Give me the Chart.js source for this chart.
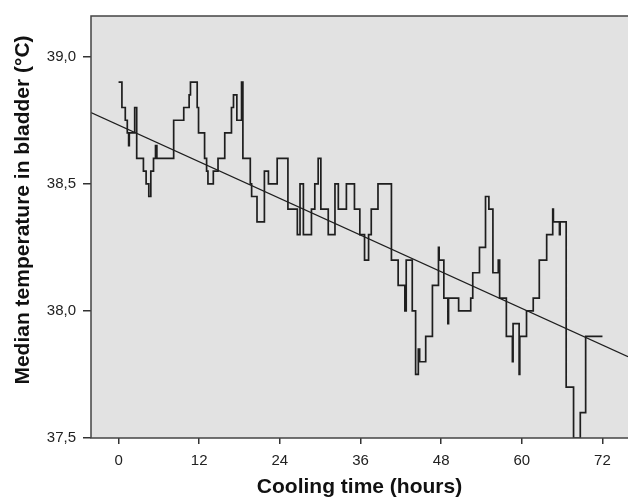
<!DOCTYPE html>
<html>
<head>
<meta charset="utf-8">
<script src="https://cdn.jsdelivr.net/npm/chart.js@4/dist/chart.umd.min.js"></script>
<style>
  html, body { margin: 0; padding: 0; background: #ffffff; }
  #wrap { width: 628px; height: 500px; }
</style>
</head>
<body>
<div id="wrap"><canvas id="c" width="628" height="500"></canvas></div>
<script>
// Cooling time (hours) at which each step begins
const stepTimes = [0, 0.5, 1.0, 1.3, 1.5, 1.6, 2.4, 2.7, 3.7, 4.1, 4.5, 4.8, 5.2, 5.5, 5.7, 8.2, 9.7, 10.5, 10.7, 11.7,
  11.9, 12.8, 13.1, 13.3, 14.1, 14.8, 15.8, 16.8, 17.1, 17.6, 18.3, 18.5, 19.6, 19.8, 20.6, 21.7, 22.3, 23.6, 25.2, 26.6,
  27.0, 27.5, 28.7, 29.2, 29.7, 30.1, 31.2, 32.2, 32.7, 33.9, 35.1, 35.9, 36.6, 37.2, 37.6, 38.6, 40.6, 41.6, 42.6, 42.8,
  43.7, 44.2, 44.6, 44.8, 45.7, 46.7, 47.6, 47.7, 48.4, 49.0, 49.1, 50.6, 52.4, 52.7, 53.7, 54.6, 55.1, 55.7, 56.5, 56.7,
  57.7, 58.6, 58.7, 59.6, 59.7, 60.7, 61.7, 62.6, 63.7, 64.6, 64.7, 65.6, 65.7, 66.6, 67.7, 68.7, 69.5, 72.0];
// Median bladder temperature (°C) for each step
const medianTemps = [38.9, 38.8, 38.75, 38.7, 38.65, 38.7, 38.8, 38.6, 38.55, 38.5, 38.45, 38.55, 38.6, 38.65, 38.6, 38.75, 38.8, 38.85, 38.9, 38.8,
  38.7, 38.6, 38.55, 38.5, 38.55, 38.6, 38.7, 38.8, 38.85, 38.75, 38.9, 38.6, 38.5, 38.45, 38.35, 38.55, 38.5, 38.6, 38.4, 38.3,
  38.5, 38.3, 38.4, 38.5, 38.6, 38.4, 38.3, 38.5, 38.4, 38.5, 38.4, 38.3, 38.2, 38.3, 38.4, 38.5, 38.2, 38.1, 38.0, 38.2,
  38.0, 37.75, 37.85, 37.8, 37.9, 38.1, 38.25, 38.2, 38.05, 37.95, 38.05, 38.0, 38.05, 38.15, 38.25, 38.45, 38.4, 38.15, 38.2, 38.05,
  37.9, 37.8, 37.95, 37.75, 37.9, 38.0, 38.05, 38.2, 38.3, 38.4, 38.35, 38.3, 38.35, 37.7, 37.5, 37.6, 37.9, 37.9];
// Regression line end points
const fitTimes = [-4.1, 75.8];
const fitTemps = [38.78, 37.82];
// Tick labels and titles
const xTickValues = [0, 12, 24, 36, 48, 60, 72];
const yTickValues = [37.5, 38.0, 38.5, 39.0];
const yTickLabels = ['37,5', '38,0', '38,5', '39,0'];
const xTitle = 'Cooling time (hours)';
const yTitle = 'Median temperature in bladder (°C)';

const stepData = stepTimes.map((t, i) => ({ x: t, y: medianTemps[i] }));
const fitData = fitTimes.map((t, i) => ({ x: t, y: fitTemps[i] }));

const plotBg = {
  id: 'plotBg',
  beforeDatasetsDraw(chart) {
    const { ctx, chartArea: a } = chart;
    ctx.save();
    ctx.fillStyle = '#e2e2e2';
    ctx.fillRect(a.left, a.top, a.right - a.left, a.bottom - a.top);
    ctx.restore();
  },
  afterDatasetsDraw(chart) {
    const { ctx, chartArea: a } = chart;
    ctx.save();
    ctx.strokeStyle = '#444';
    ctx.lineWidth = 1.5;
    ctx.beginPath();
    ctx.moveTo(a.right + 2, a.top);
    ctx.lineTo(a.left, a.top);
    ctx.lineTo(a.left, a.bottom);
    ctx.lineTo(a.right + 2, a.bottom);
    ctx.stroke();
    // y-axis title
    ctx.translate(23, 210);
    ctx.rotate(-Math.PI / 2);
    ctx.fillStyle = '#111';
    ctx.font = 'bold 21px "Liberation Sans", Arial, sans-serif';
    ctx.textAlign = 'center';
    ctx.textBaseline = 'middle';
    ctx.fillText(yTitle, 0, 0);
    ctx.restore();
  }
};

new Chart(document.getElementById('c'), {
  type: 'line',
  data: {
    datasets: [
      {
        data: stepData,
        stepped: true,
        borderColor: '#1e1e1e',
        borderWidth: 1.7,
        pointRadius: 0,
        fill: false,
        tension: 0
      },
      {
        data: fitData,
        borderColor: '#1e1e1e',
        borderWidth: 1.1,
        pointRadius: 0,
        fill: false,
        tension: 0
      }
    ]
  },
  options: {
    responsive: false,
    animation: false,
    layout: { padding: { top: 12, right: 0, left: 0, bottom: 0 } },
    plugins: { legend: { display: false }, tooltip: { enabled: false } },
    scales: {
      x: {
        type: 'linear',
        min: -4.1,
        max: 75.8,
        afterBuildTicks(axis) { axis.ticks = xTickValues.map(v => ({ value: v })); },
        afterFit(scale) { scale.height = 62; },
        border: { display: false },
        grid: { drawOnChartArea: false, drawTicks: true, tickLength: 6, color: '#333', lineWidth: 1.5 },
        ticks: { color: '#222', font: { family: 'Liberation Sans', size: 15 }, padding: 8, maxRotation: 0, autoSkip: false },
        title: { display: true, text: xTitle, color: '#111',
          font: { family: 'Liberation Sans', size: 21, weight: 'bold' }, padding: { top: 0, bottom: 0 } }
      },
      y: {
        type: 'linear',
        min: 37.5,
        max: 39.16,
        afterBuildTicks(axis) { axis.ticks = yTickValues.map(v => ({ value: v })); },
        afterFit(scale) { scale.width = 91; },
        border: { display: false },
        grid: { drawOnChartArea: false, drawTicks: true, tickLength: 8, color: '#333', lineWidth: 1.5 },
        ticks: { color: '#222', font: { family: 'Liberation Sans', size: 15 }, padding: 7,
          callback: (v) => { const i = yTickValues.indexOf(v); return i >= 0 ? yTickLabels[i] : ''; } },
        title: { display: false }
      }
    }
  },
  plugins: [plotBg]
});
</script>
</body>
</html>
